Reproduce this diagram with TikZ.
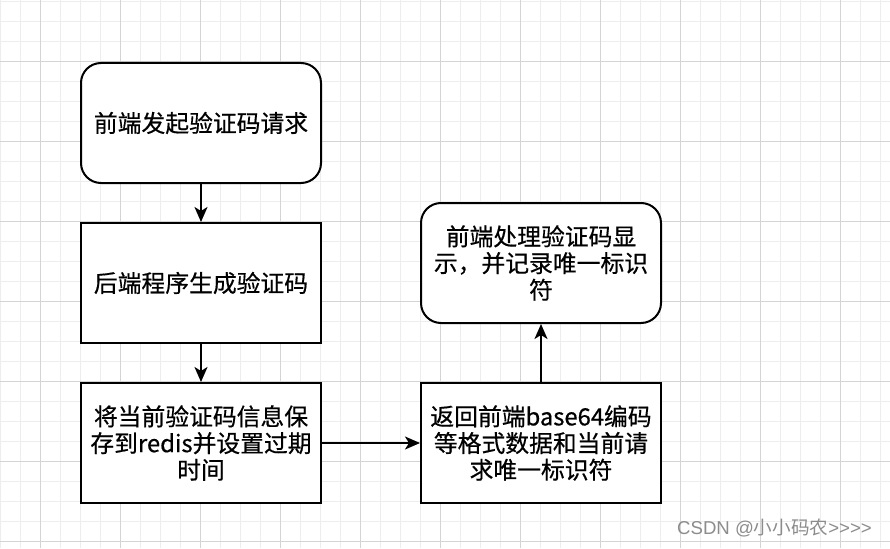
\documentclass[tikz,border=0pt]{standalone}
\usepackage{fontspec}
\setmainfont[FakeBold=0.5]{Noto Sans CJK SC}
\newfontfamily\wmfont{Liberation Sans}
\newfontfamily\cjk{Noto Sans CJK SC}
\usetikzlibrary{arrows.meta}
\begin{document}
\begin{tikzpicture}[x=1pt,y=-1pt,
  box/.style={draw=black,line width=2pt,fill=white,minimum width=240pt,minimum height=120pt,
    align=center,font=\fontsize{23.8}{26.7}\selectfont,inner sep=0pt,text width=232pt},
  rbox/.style={box,rounded corners=20pt},
  conn/.style={line width=2pt,-{Stealth[length=15pt,width=13pt,inset=4pt]}}]
\useasboundingbox (0,0) rectangle (890,548);
\fill[white] (0,0) rectangle (890,548);
\foreach \i in {0,...,44} {\draw[color=black!7,line width=1pt] (\i*20,0) -- (\i*20,548);}
\foreach \i in {0,...,27} {\draw[color=black!7,line width=1pt] (0,1.7+\i*20) -- (890,1.7+\i*20);}
\foreach \i in {0,...,10} {\draw[color=black!17,line width=1pt] (40+\i*80,0) -- (40+\i*80,548);}
\foreach \i in {0,...,6} {\draw[color=black!17,line width=1pt] (0,61.7+\i*80) -- (890,61.7+\i*80);}
\node[rbox] (a) at (201,123) {前端发起验证码请求};
\node[box] (b) at (201,283) {后端程序生成验证码};
\node[box] (c) at (201,443) {将当前验证码信息保\\存到redis并设置过期\\时间};
\node[box] (e) at (541,443) {返回前端base64编码\\等格式数据和当前请\\求唯一标识符};
\node[rbox] (d) at (541,263) {前端处理验证码显\\示，并记录唯一标识\\符};
\draw[conn] (a) -- (b);
\draw[conn] (b) -- (c);
\draw[conn] (c) -- (e);
\draw[conn] (e) -- (d);
\node[font=\fontsize{18.6}{20}\selectfont,text=black!45,inner sep=0pt,anchor=west] (wm) at (677,528) {\wmfont CSDN @\cjk 小小码农\wmfont >>>>};
\end{tikzpicture}
\end{document}
